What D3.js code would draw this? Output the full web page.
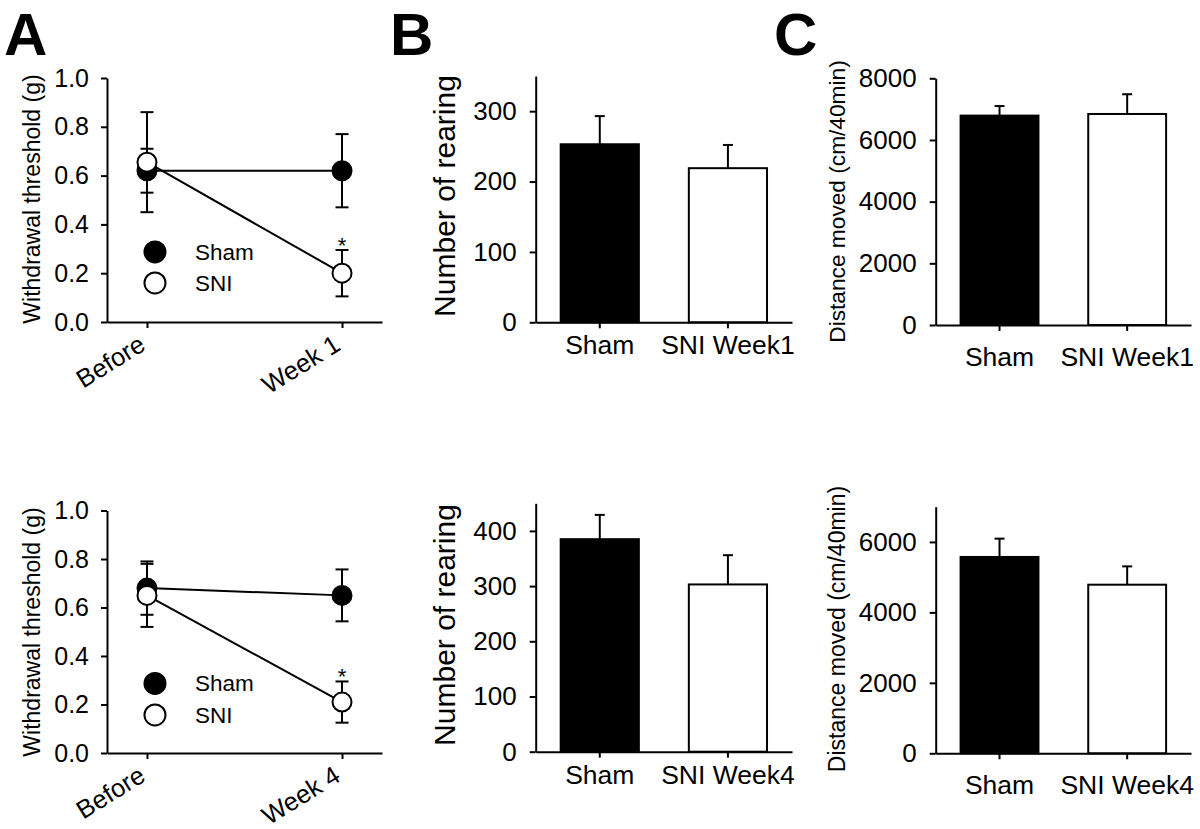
<!DOCTYPE html>
<html><head><meta charset="utf-8">
<script src="https://cdn.jsdelivr.net/npm/d3@7"></script>
<style>
body{margin:0;background:#fff}
text{font-family:"Liberation Sans", Arial, Helvetica, sans-serif; fill:#000}
</style>
</head><body>
<svg id="chart" width="1200" height="829"></svg>
<script>
// ---------- Panel A: withdrawal threshold ----------
const aTicks = [0, 0.2, 0.4, 0.6, 0.8, 1.0];
const aTopCats = ["Before", "Week 1"];
const aTopSham = [0.62, 0.62];
const aTopShamErr = [0.09, 0.15];
const aTopSNI = [0.655, 0.20];
const aTopSNIErr = [0.205, 0.095];
const aBotCats = ["Before", "Week 4"];
const aBotSham = [0.68, 0.65];
const aBotShamErr = [0.11, 0.107];
const aBotSNI = [0.65, 0.21];
const aBotSNIErr = [0.13, 0.085];
const legendLabels = ["Sham", "SNI"];

// ---------- Panel B: number of rearing ----------
const bTopCats = ["Sham", "SNI Week1"];
const bTopVals = [253, 219];
const bTopErr = [40, 33];
const bTopTicks = [0, 100, 200, 300];
const bBotCats = ["Sham", "SNI Week4"];
const bBotVals = [385, 303];
const bBotErr = [44, 53];
const bBotTicks = [0, 100, 200, 300, 400];

// ---------- Panel C: distance moved ----------
const cTopCats = ["Sham", "SNI Week1"];
const cTopVals = [6790, 6843];
const cTopErr = [310, 640];
const cTopTicks = [0, 2000, 4000, 6000, 8000];
const cBotCats = ["Sham", "SNI Week4"];
const cBotVals = [5573, 4786];
const cBotErr = [520, 520];
const cBotTicks = [0, 2000, 4000, 6000];

const svg = d3.select("#chart");
svg.append("rect").attr("width", 1200).attr("height", 829).attr("fill", "#fff");

function styleAxis(g, fontSize) {
  g.selectAll("path, line").attr("stroke", "#000").attr("stroke-width", 2);
  g.selectAll("text").attr("font-size", fontSize).attr("fill", "#000")
    .attr("font-family", '"Liberation Sans", Arial, sans-serif');
}

function yTitle(text, x, y, size) {
  svg.append("text").attr("transform", `translate(${x},${y}) rotate(-90)`)
    .attr("text-anchor", "middle").attr("font-size", size).text(text);
}

function linePanel(o) {
  const g = svg.append("g");
  const x = d3.scalePoint().domain(o.cats).range(o.xRange).padding(0.205);
  const y = d3.scaleLinear().domain([0, 1]).range(o.yRange);
  const ya = g.append("g").attr("transform", `translate(${o.xRange[0]},0)`)
    .call(d3.axisLeft(y).tickValues(aTicks).tickFormat(d3.format(".1f"))
      .tickSize(6).tickSizeOuter(0).tickPadding(12));
  styleAxis(ya, 25);
  const xa = g.append("g").attr("transform", `translate(0,${o.yRange[0]})`)
    .call(d3.axisBottom(x).tickSize(6).tickSizeOuter(0).tickFormat(""));
  styleAxis(xa, 25);
  // rotated category labels
  g.selectAll(".xl").data(o.cats).enter().append("text")
    .attr("text-anchor", "end").attr("font-size", 25.5)
    .attr("transform", d => `translate(${x(d)},${o.yRange[0] + 27}) rotate(-32)`)
    .text(d => d);
  const series = [
    {vals: o.sham, errs: o.shamErr, fill: "#000"},
    {vals: o.sni, errs: o.sniErr, fill: "#fff"}
  ];
  const line = d3.line().x((d, i) => x(o.cats[i])).y(d => y(d));
  series.forEach(s => {
    g.append("path").attr("d", line(s.vals)).attr("fill", "none")
      .attr("stroke", "#000").attr("stroke-width", 2);
  });
  series.forEach(s => {
    s.vals.forEach((v, i) => {
      const cx = x(o.cats[i]);
      const e = s.errs[i];
      g.append("line").attr("x1", cx).attr("x2", cx).attr("y1", y(v - e)).attr("y2", y(v + e))
        .attr("stroke", "#000").attr("stroke-width", 2);
      [v - e, v + e].forEach(t => {
        g.append("line").attr("x1", cx - 6.5).attr("x2", cx + 6.5).attr("y1", y(t)).attr("y2", y(t))
          .attr("stroke", "#000").attr("stroke-width", 2);
      });
    });
  });
  series.forEach(s => {
    g.selectAll(null).data(s.vals).enter().append("circle")
      .attr("cx", (d, i) => x(o.cats[i])).attr("cy", d => y(d)).attr("r", 9.5)
      .attr("fill", s.fill).attr("stroke", "#000").attr("stroke-width", 2);
  });
  // significance star
  g.append("text").attr("x", x(o.cats[1])).attr("y", y(o.sni[1] + o.sniErr[1]) + 3)
    .attr("text-anchor", "middle").attr("font-size", 22).text("*");
  // legend
  const lx = x(o.cats[0]) + 8;
  const ly = [y(o.legendVals[0]), y(o.legendVals[1])];
  [["#000", legendLabels[0]], ["#fff", legendLabels[1]]].forEach((d, i) => {
    g.append("circle").attr("cx", lx).attr("cy", ly[i]).attr("r", 10.5)
      .attr("fill", d[0]).attr("stroke", "#000").attr("stroke-width", 2);
    g.append("text").attr("x", lx + 40).attr("y", ly[i] + 8).attr("font-size", 22.5).text(d[1]);
  });
  yTitle("Withdrawal threshold (g)", o.titleX, o.titleY, 23);
}

function barPanel(o) {
  const g = svg.append("g");
  const x = d3.scaleBand().domain(o.cats).range(o.xRange).paddingInner(0.39).paddingOuter(0.195);
  const y = d3.scaleLinear().domain([0, o.max]).range(o.yRange);
  const ya = g.append("g").attr("transform", `translate(${o.xRange[0]},0)`)
    .call(d3.axisLeft(y).tickValues(o.ticks).tickFormat(d3.format("d"))
      .tickSize(6).tickSizeOuter(0).tickPadding(13));
  styleAxis(ya, 26);
  g.selectAll(".bar").data(o.vals).enter().append("rect")
    .attr("x", (d, i) => x(o.cats[i])).attr("width", x.bandwidth())
    .attr("y", d => y(d)).attr("height", d => y(0) - y(d))
    .attr("fill", (d, i) => i === 0 ? "#000" : "#fff")
    .attr("stroke", "#000").attr("stroke-width", 2);
  o.vals.forEach((v, i) => {
    const cx = x(o.cats[i]) + x.bandwidth() / 2;
    const top = y(v + o.errs[i]);
    g.append("line").attr("x1", cx).attr("x2", cx).attr("y1", y(v)).attr("y2", top)
      .attr("stroke", "#000").attr("stroke-width", 2);
    g.append("line").attr("x1", cx - 5).attr("x2", cx + 5).attr("y1", top).attr("y2", top)
      .attr("stroke", "#000").attr("stroke-width", 2);
  });
  const xa = g.append("g").attr("transform", `translate(0,${o.yRange[0]})`)
    .call(d3.axisBottom(x).tickSize(6).tickSizeOuter(0).tickPadding(o.labelPad));
  styleAxis(xa, 26.5);
  yTitle(o.title, o.titleX, o.titleY, o.titleSize);
}

linePanel({cats: aTopCats, sham: aTopSham, shamErr: aTopShamErr, sni: aTopSNI, sniErr: aTopSNIErr,
  xRange: [107, 382], yRange: [322, 78], legendVals: [0.287, 0.16], titleX: 40, titleY: 199});
linePanel({cats: aBotCats, sham: aBotSham, shamErr: aBotShamErr, sni: aBotSNI, sniErr: aBotSNIErr,
  xRange: [107, 382], yRange: [753, 510.5], legendVals: [0.287, 0.157], titleX: 40, titleY: 632});

barPanel({cats: bTopCats, vals: bTopVals, errs: bTopErr, ticks: bTopTicks, max: 350,
  xRange: [535.7, 792], yRange: [322.3, 76], labelPad: 7,
  title: "Number of rearing", titleX: 455, titleY: 196, titleSize: 30});
barPanel({cats: bBotCats, vals: bBotVals, errs: bBotErr, ticks: bBotTicks, max: 450,
  xRange: [535.7, 792], yRange: [751.7, 503.3], labelPad: 7,
  title: "Number of rearing", titleX: 455, titleY: 625, titleSize: 30});
barPanel({cats: cTopCats, vals: cTopVals, errs: cTopErr, ticks: cTopTicks, max: 8000,
  xRange: [935.7, 1191], yRange: [325, 78.3], labelPad: 16,
  title: "Distance moved (cm/40min)", titleX: 845, titleY: 201.5, titleSize: 22.7});
barPanel({cats: cBotCats, vals: cBotVals, errs: cBotErr, ticks: cBotTicks, max: 7000,
  xRange: [935.7, 1191], yRange: [753.3, 506.7], labelPad: 16,
  title: "Distance moved (cm/40min)", titleX: 845, titleY: 629, titleSize: 23});

// panel letters
[["A", 4, 55], ["B", 390, 55], ["C", 774, 55]].forEach(d => {
  svg.append("text").attr("x", d[1]).attr("y", d[2]).attr("font-size", 60)
    .attr("font-weight", "bold").text(d[0]);
});
</script>
</body></html>
